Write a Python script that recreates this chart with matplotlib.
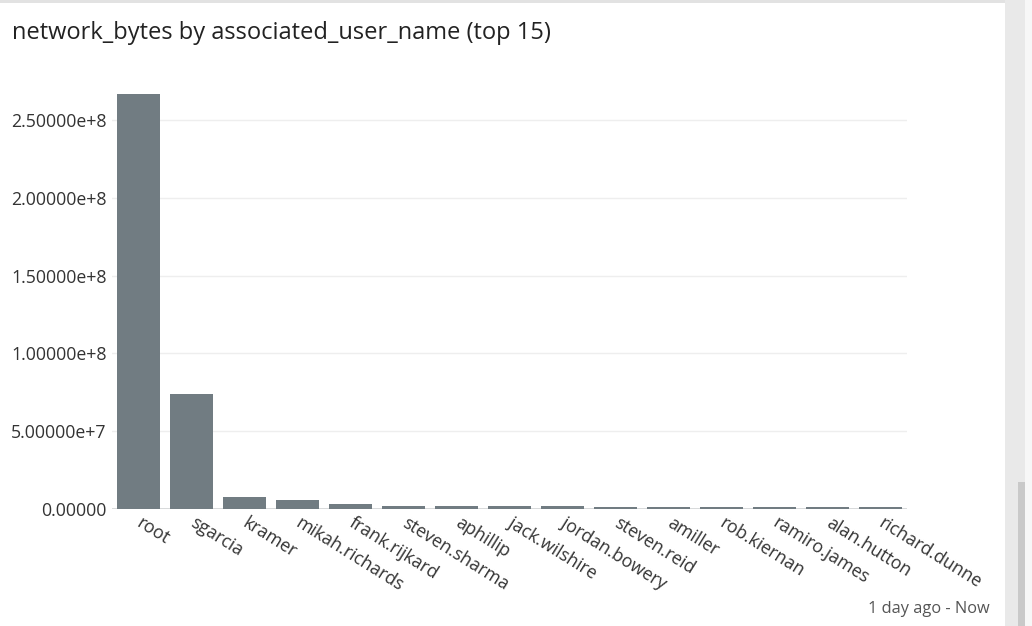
import matplotlib.pyplot as plt
from matplotlib.patches import Rectangle
from matplotlib.ticker import FuncFormatter

users = ["root", "sgarcia", "kramer", "mikah.richards", "frank.rijkard",
         "steven.sharma", "aphillip", "jack.wilshire", "jordan.bowery",
         "steven.reid", "amiller", "rob.kiernan", "ramiro.james",
         "alan.hutton", "richard.dunne"]
network_bytes = [2.668e8, 7.41e7, 7.9e6, 5.8e6, 3.0e6,
                 2.1e6, 2.1e6, 2.0e6, 2.0e6,
                 1.3e6, 1.25e6, 1.2e6, 1.2e6, 1.15e6, 1.15e6]
y_ticks = [0, 5e7, 1e8, 1.5e8, 2e8, 2.5e8]

plt.rcParams['font.family'] = ['Open Sans', 'DejaVu Sans']

fig = plt.figure(figsize=(10.32, 6.26), dpi=100)

# card frame / scrollbar bits
fig.patches.append(Rectangle((1005 / 1032, 0), 27 / 1032, 1, transform=fig.transFigure,
                             facecolor="#e9e9e9", edgecolor="none", zorder=0))
fig.patches.append(Rectangle((1025 / 1032, 0), 7 / 1032, 1, transform=fig.transFigure,
                             facecolor="#f7f7f7", edgecolor="none", zorder=0))
fig.patches.append(Rectangle((1018 / 1032, 0), 7 / 1032, (626 - 482) / 626, transform=fig.transFigure,
                             facecolor="#c9c9c9", edgecolor="none", zorder=0))
fig.patches.append(Rectangle((0, 1 - 3 / 626), 1005 / 1032, 3 / 626, transform=fig.transFigure,
                             facecolor="#e2e2e2", edgecolor="none", zorder=0))

ax = fig.add_axes([112 / 1032, 1 - 509 / 626, 795 / 1032, 427 / 626])
ax.bar(range(len(users)), network_bytes, width=0.8, color="#717c82", zorder=4)
ax.set_xlim(-0.5, len(users) - 0.5)
ax.set_ylim(0, 2.745e8)

ax.set_yticks(y_ticks)
ax.yaxis.set_major_formatter(FuncFormatter(
    lambda v, p: "0.00000" if v == 0 else f"{v:.5e}".replace("e+0", "e+")))
ax.grid(axis="y", color="#eeeeee", linewidth=1, zorder=0)
ax.axhline(0, color="#4a555a", linewidth=1.0, zorder=3)
for s in ax.spines.values():
    s.set_visible(False)
ax.tick_params(axis="y", length=0, pad=4, labelsize=12.8, labelcolor="#333333")
ax.tick_params(axis="x", length=0, pad=9)
ax.set_xticks(range(len(users)))
ax.set_xticklabels(users, rotation=-32, rotation_mode="anchor", ha="left", va="center",
                   fontsize=12.8, color="#333333")

fig.text(12 / 1032, 1 - 33 / 626, "network_bytes by associated_user_name (top 15)",
         fontsize=17, color="#222222", va="center", ha="left")
fig.text(990 / 1032, 1 - 609 / 626, "1 day ago - Now", fontsize=11.8, color="#555555",
         va="center", ha="right")

fig.savefig("out.png", dpi=100)
